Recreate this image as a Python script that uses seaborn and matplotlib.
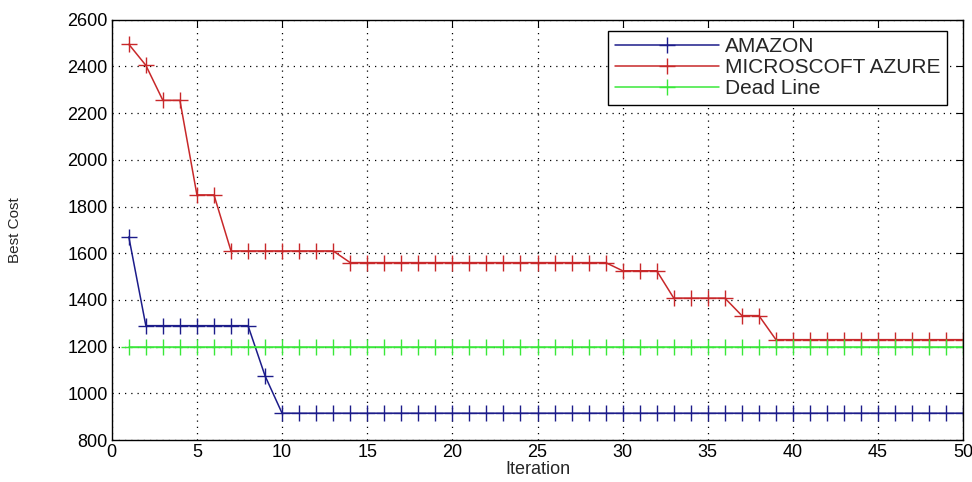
import numpy as np
import pandas as pd
import matplotlib
matplotlib.use("Agg")
import matplotlib.pyplot as plt
import seaborn as sns

# values
iterations = list(range(1, 51))
amazon = [1670] + [1290] * 7 + [1075] + [915] * 41
azure = ([2495, 2405, 2255, 2255, 1850, 1850] + [1610] * 7 + [1560] * 16
         + [1525] * 3 + [1408] * 4 + [1333] * 2 + [1230] * 12)
deadline = [1200] * 50

series_names = ["AMAZON", "MICROSCOFT AZURE", "Dead Line"]
series_colors = ["#1c1c8a", "#c8282a", "#3ae83a"]

df = pd.DataFrame({
    "Iteration": iterations * 3,
    "Best Cost": amazon + azure + deadline,
    "Series": [series_names[0]] * 50 + [series_names[1]] * 50 + [series_names[2]] * 50,
})

sns.set_style("white")
plt.rcParams["font.family"] = ["Liberation Sans", "DejaVu Sans"]

fig = plt.figure(figsize=(9.72, 4.82), dpi=100)
ax = fig.add_axes([0.115, 0.087, 0.876, 0.872])

for name, col in zip(series_names, series_colors):
    sns.lineplot(data=df[df["Series"] == name], x="Iteration", y="Best Cost",
                 color=col, marker="+", markersize=11, markeredgewidth=1.0,
                 markeredgecolor=col, markerfacecolor=col,
                 linewidth=1.1, label=name, ax=ax)

ax.set_xlim(0, 50)
ax.set_ylim(800, 2600)
ax.set_xticks(range(0, 51, 5))
ax.set_yticks(range(800, 2601, 200))
ax.grid(True, color="black", linestyle=(0, (1, 4)), linewidth=0.9)
ax.tick_params(direction="in", length=5, labelsize=13, colors="black",
               top=True, right=True, pad=3)
for sp in ax.spines.values():
    sp.set_color("black")
    sp.set_linewidth(1.0)
ax.set_xlabel("Iteration", fontsize=13, labelpad=0)
ax.set_ylabel("Best Cost", fontsize=11)
ax.yaxis.set_label_coords(-0.105, 0.5)

leg = ax.legend(loc="upper right", fontsize=15, frameon=True, fancybox=False,
                edgecolor="black", framealpha=1, handlelength=5.0,
                handletextpad=0.3, borderpad=0.3, labelspacing=0.1,
                bbox_to_anchor=(0.993, 0.998))
leg.get_frame().set_linewidth(1.0)

fig.savefig("out.png", dpi=100)
